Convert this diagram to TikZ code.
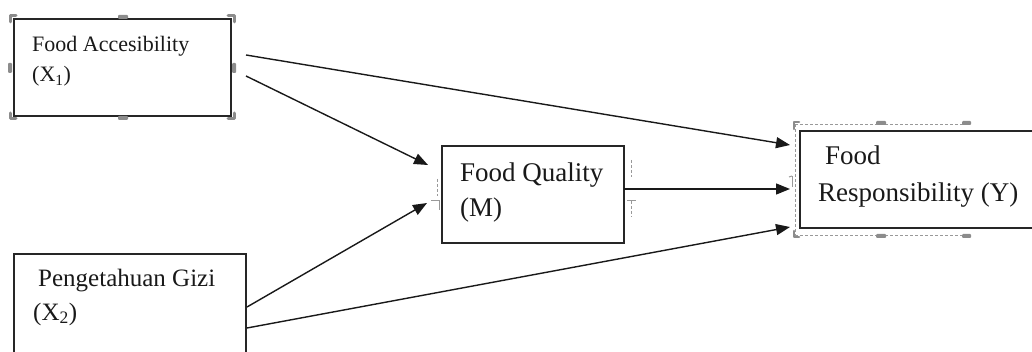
\documentclass[tikz,border=0pt]{standalone}
\usepackage{fontspec}
\setmainfont{Liberation Serif}
\usetikzlibrary{arrows.meta}
\begin{document}
\begin{tikzpicture}[x=1pt,y=-1pt,
  box/.style={draw=black!85, line width=1.4pt, rectangle, inner sep=0pt, outer sep=0pt, anchor=north west},
  lbl/.style={anchor=base west, inner sep=0pt, text=black!90},
  small/.style={font=\fontsize{22}{26}\selectfont},
  mid/.style={font=\fontsize{25}{30}\selectfont},
  big/.style={font=\fontsize{27}{32}\selectfont},
  arr/.style={line width=1.4pt, draw=black!90, -{Triangle[length=14pt,width=11pt]}},
  hdl/.style={draw=black!45, line width=3pt, line join=round, line cap=round},
  hfill/.style={fill=black!45, rounded corners=1pt},
  sel/.style={draw=black!40, line width=0.9pt, dash pattern=on 3pt off 2pt},
  gmark/.style={draw=black!40, line width=1pt}]
\clip (0,0) rectangle (1032,352);
\useasboundingbox (0,0) rectangle (1032,352);

% boxes
\node[box, minimum width=217pt, minimum height=97pt] (x1) at (14,19) {};
\node[box, minimum width=182pt, minimum height=97pt] (m) at (442,146) {};
\node[box, minimum width=260pt, minimum height=97pt] (y) at (800,131) {};
\node[box, minimum width=232pt, minimum height=120pt] (x2) at (14,254) {};

% texts
\node[lbl, small] (x1a) at (32,52) {Food Accesibility};
\node[lbl, small] (x1b) at (32,82) {(X\textsubscript{1})};
\node[lbl, big] (ma) at (460,182) {Food Quality};
\node[lbl, big] (mb) at (460,217) {(M)};
\node[lbl, big] (ya) at (825,165) {Food};
\node[lbl, big] (yb) at (818,202) {Responsibility (Y)};
\node[lbl, mid] (x2a) at (38,287) {Pengetahuan Gizi};
\node[lbl, mid] (x2b) at (33,320) {(X\textsubscript{2})};

% connectors
\draw[arr] ([shift={(15,36)}]x1.north east) -- ([shift={(-10,14)}]y.north west);
\draw[arr] ([shift={(15,57)}]x1.north east) -- ([shift={(-14,19)}]m.north west);
\draw[arr] ([shift={(1,53)}]x2.north east) -- ([shift={(-15,57)}]m.north west);
\draw[arr] ([shift={(1,74)}]x2.north east) -- ([shift={(-10,96)}]y.north west);
\draw[arr] ([shift={(0,43)}]m.north east) -- ([shift={(-10,58)}]y.north west);

% selection handles of first box
\draw[hdl] (10,22) -- (10,16) -- (16,16);
\draw[hdl] (228,16) -- (234,16) -- (234,22);
\draw[hdl] (10,113) -- (10,119) -- (16,119);
\draw[hdl] (228,119) -- (234,119) -- (234,113);
\fill[hfill] (118,15) rectangle (128,19);
\fill[hfill] (118,116) rectangle (128,120);
\fill[hfill] (8,63) rectangle (12,73);
\fill[hfill] (232,63) rectangle (236,73);

% selection frame of the outcome box
\draw[sel] (795,124) -- (968,124);
\draw[sel] (795,235) -- (968,235);
\draw[sel] (795,124) -- (795,235);
\draw[hdl, line width=2.5pt] (794,129) -- (794,122) -- (799,122);
\draw[hdl, line width=2.5pt] (794,231) -- (794,237) -- (799,237);
\fill[hfill] (876,121) rectangle (886,125);
\fill[hfill] (876,234) rectangle (886,238);
\fill[hfill] (962,121) rectangle (971,125);
\fill[hfill] (962,234) rectangle (971,238);
\draw[gmark] (792,176) -- (792,187);
\draw[gmark] (789,177) -- (792,176);

% anchor marks around the mediator box
\draw[gmark, dash pattern=on 3pt off 2pt] (437,179) -- (437,196);
\draw[gmark] (431,201) -- (439,201) -- (439,210);
\draw[gmark, dash pattern=on 3pt off 2pt] (631,160) -- (631,177);
\draw[gmark] (627,201) -- (636,201);
\draw[gmark, dash pattern=on 3pt off 2pt] (631,201) -- (631,217);
\end{tikzpicture}
\end{document}
